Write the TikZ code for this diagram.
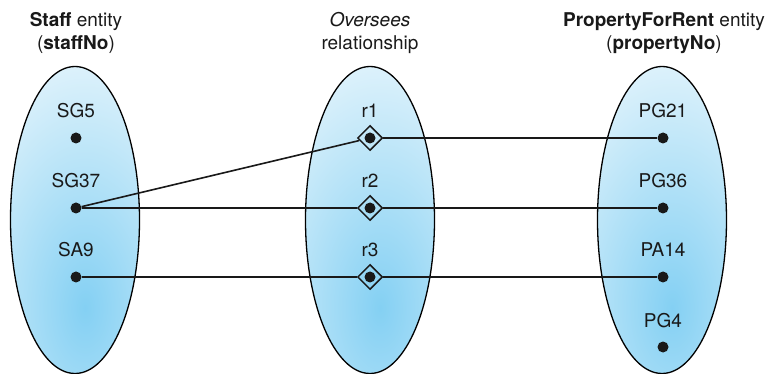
\documentclass[tikz,border=0pt]{standalone}
\usepackage{fontspec}
\setmainfont{TeX Gyre Heros}
\usepackage{xcolor}
\usepackage{tikz}
\usetikzlibrary{calc, shapes.geometric, positioning}

\definecolor{setdark}{RGB}{132,208,243}
\definecolor{setlight}{RGB}{230,245,252}

\begin{document}
\begin{tikzpicture}[x=1pt, y=-1pt,
    every node/.style={font=\fontsize{19}{23}\selectfont, text=black!90},
    entset/.style={ellipse, draw, line width=1.3pt, inner sep=0pt,
        minimum width=129pt, minimum height=307pt,
        path picture={\shade[inner color=setdark, outer color=setlight]
            ($(path picture bounding box.center)+(10,88)$)
            ellipse [x radius=150pt, y radius=270pt];}},
    dot/.style={circle, fill=black!90, inner sep=0pt, minimum size=11pt},
    reldia/.style={diamond, draw=black!90, line width=1.5pt, inner sep=0pt,
        minimum size=25pt},
    lbl/.style={anchor=base, inner sep=0pt},
    title/.style={align=center, inner sep=0pt},
    conn/.style={line width=1.6pt, draw=black!90}]
    \useasboundingbox (0,0) rectangle (769,374);

    % 1. Các tập thực thể và quan hệ
    \node[entset] (staffset) at (75,220) {};
    \node[entset] (relset) at (370,220) {};
    \node[entset] (propset) at (662,220) {};

    % 2. Tiêu đề
    \node[title] (stafftitle) at (76,33) {\textbf{Staff} entity\\(\textbf{staffNo})};
    \node[title] (reltitle) at (370,33) {\textit{Oversees}\\relationship};
    \node[title] (proptitle) at (664,33) {\textbf{PropertyForRent} entity\\(\textbf{propertyNo})};

    % 3. Các phần tử
    \foreach \name/\y in {SG5/138, SG37/208, SA9/277} {
        \node[dot] (\name) at (76,\y) {};
        \node[lbl] (l\name) at (76,\y-20) {\name};
    }
    \foreach \name/\y in {PG21/138, PG36/208, PA14/277, PG4/347} {
        \node[dot] (\name) at (663,\y) {};
        \node[lbl] (l\name) at (663,\y-20) {\name};
    }
    \foreach \i/\y in {1/138, 2/208, 3/277} {
        \node[reldia] (r\i) at (370,\y) {};
        \node[dot] (rd\i) at (r\i.center) {};
        \node[lbl] (lr\i) at (370,\y-20) {r\i};
    }

    % 4. Các liên kết
    \draw[conn] (SG37) -- (r1);
    \draw[conn] (r1) -- (PG21);
    \draw[conn] (SG37) -- (r2) -- (PG36);
    \draw[conn] (SA9) -- (r3) -- (PA14);
\end{tikzpicture}
\end{document}
